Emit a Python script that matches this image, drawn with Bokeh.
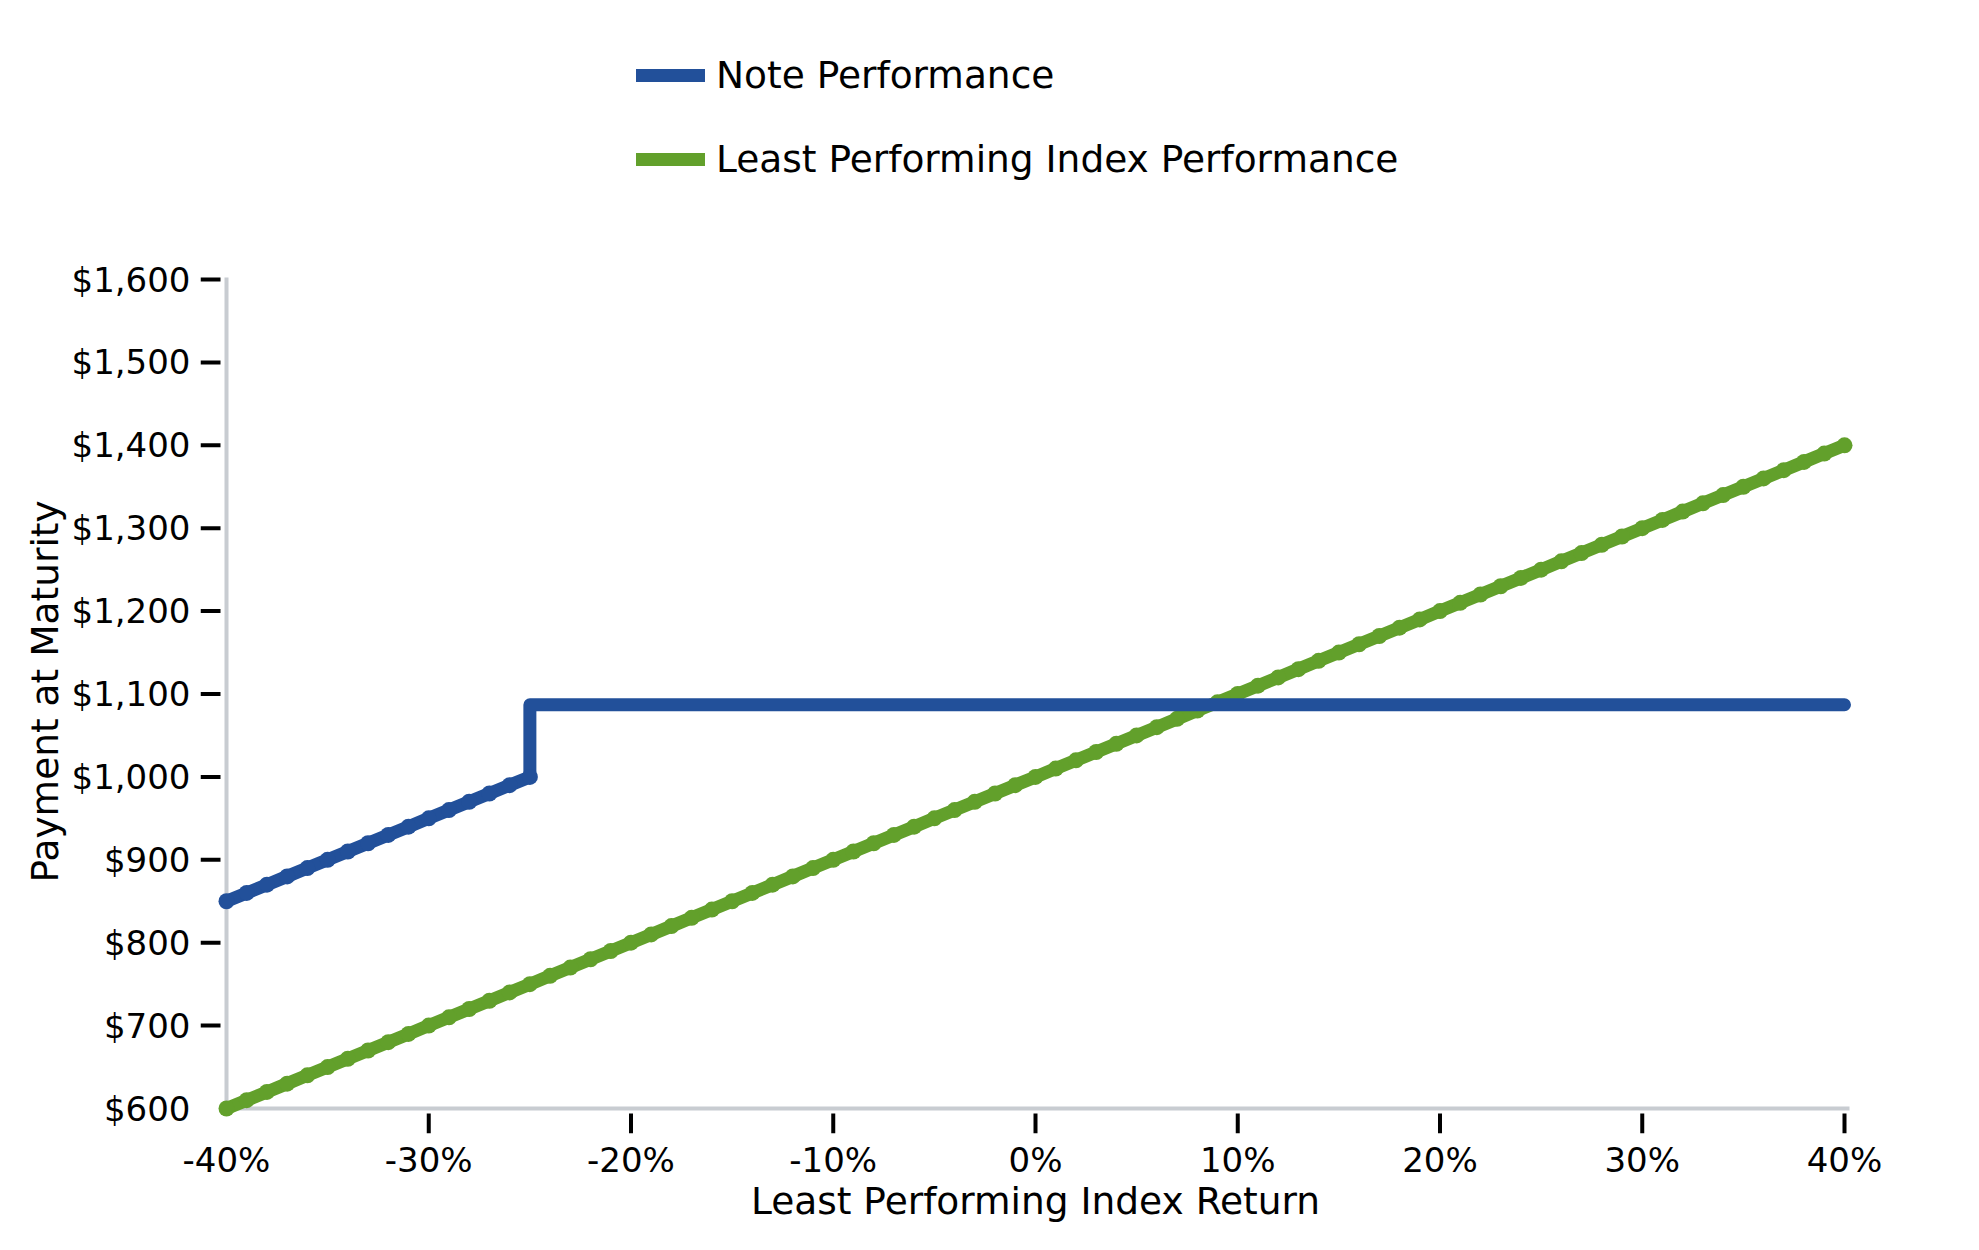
from bokeh.plotting import figure
from bokeh.models import Range1d, FixedTicker, Legend, LegendItem, Title
from bokeh.embed import file_html
from bokeh.resources import INLINE

# ---------------- data ----------------
index_return = [-40, -39, -38, -37, -36, -35, -34, -33, -32, -31,
                -30, -29, -28, -27, -26, -25, -24, -23, -22, -21,
                -20, -19, -18, -17, -16, -15, -14, -13, -12, -11,
                -10, -9, -8, -7, -6, -5, -4, -3, -2, -1,
                0, 1, 2, 3, 4, 5, 6, 7, 8, 9,
                10, 11, 12, 13, 14, 15, 16, 17, 18, 19,
                20, 21, 22, 23, 24, 25, 26, 27, 28, 29,
                30, 31, 32, 33, 34, 35, 36, 37, 38, 39, 40]
index_payment = [600, 610, 620, 630, 640, 650, 660, 670, 680, 690,
                 700, 710, 720, 730, 740, 750, 760, 770, 780, 790,
                 800, 810, 820, 830, 840, 850, 860, 870, 880, 890,
                 900, 910, 920, 930, 940, 950, 960, 970, 980, 990,
                 1000, 1010, 1020, 1030, 1040, 1050, 1060, 1070, 1080, 1090,
                 1100, 1110, 1120, 1130, 1140, 1150, 1160, 1170, 1180, 1190,
                 1200, 1210, 1220, 1230, 1240, 1250, 1260, 1270, 1280, 1290,
                 1300, 1310, 1320, 1330, 1340, 1350, 1360, 1370, 1380, 1390, 1400]

note_return = [-40, -39, -38, -37, -36, -35, -34, -33, -32, -31,
               -30, -29, -28, -27, -26, -25, -25, -24, -23, -22, -21,
               -20, -19, -18, -17, -16, -15, -14, -13, -12, -11,
               -10, -9, -8, -7, -6, -5, -4, -3, -2, -1,
               0, 1, 2, 3, 4, 5, 6, 7, 8, 9,
               10, 11, 12, 13, 14, 15, 16, 17, 18, 19,
               20, 21, 22, 23, 24, 25, 26, 27, 28, 29,
               30, 31, 32, 33, 34, 35, 36, 37, 38, 39, 40]
note_payment = [850, 860, 870, 880, 890, 900, 910, 920, 930, 940,
                950, 960, 970, 980, 990, 1000, 1087, 1087, 1087, 1087, 1087,
                1087, 1087, 1087, 1087, 1087, 1087, 1087, 1087, 1087, 1087,
                1087, 1087, 1087, 1087, 1087, 1087, 1087, 1087, 1087, 1087,
                1087, 1087, 1087, 1087, 1087, 1087, 1087, 1087, 1087, 1087,
                1087, 1087, 1087, 1087, 1087, 1087, 1087, 1087, 1087, 1087,
                1087, 1087, 1087, 1087, 1087, 1087, 1087, 1087, 1087, 1087,
                1087, 1087, 1087, 1087, 1087, 1087, 1087, 1087, 1087, 1087, 1087]

x_ticks = [-40, -30, -20, -10, 0, 10, 20, 30, 40]
x_tick_labels = ["-40%", "-30%", "-20%", "-10%", "0%", "10%", "20%", "30%", "40%"]
y_ticks = [600, 700, 800, 900, 1000, 1100, 1200, 1300, 1400, 1500, 1600]
y_tick_labels = ["$600", "$700", "$800", "$900", "$1,000", "$1,100", "$1,200",
                 "$1,300", "$1,400", "$1,500", "$1,600"]

series_names = ["Note Performance", "Least Performing Index Performance"]
x_title = "Least Performing Index Return"
y_title = "Payment at Maturity"

# ---------------- style / layout ----------------
BLUE = "#22509a"
GREEN = "#62a02b"
AXIS_GRAY = "#c8ccd1"
FONT = "DejaVu Sans"
TICK_FS = "34px"
LABEL_FS = "37.5px"

FRAME_LEFT, FRAME_TOP = 200, 40
FRAME_W, FRAME_H = 1670, 1093
PX_PER_PCT = 20.225      # horizontal pixels per 1 % of return
PX_PER_USD = 0.829       # vertical pixels per $1
PAD_X = 26               # px between frame left and first x tick
PAD_Y = 25               # px between frame bottom and first y tick
TICK_LEN = 20            # tick length (px), drawn inside the frame strip
AXIS_OVERHANG = 5        # px the x axis line passes the last tick

X_START = x_ticks[0] - PAD_X / PX_PER_PCT
X_END = X_START + FRAME_W / PX_PER_PCT
Y_START = y_ticks[0] - PAD_Y / PX_PER_USD
Y_END = Y_START + FRAME_H / PX_PER_USD

p = figure(width=FRAME_LEFT + FRAME_W + 30, height=FRAME_TOP + FRAME_H + 100,
           x_range=Range1d(X_START, X_END), y_range=Range1d(Y_START, Y_END),
           min_border_left=FRAME_LEFT, min_border_right=30,
           min_border_top=FRAME_TOP, min_border_bottom=100,
           toolbar_location=None, output_backend="svg",
           outline_line_color=None)
p.grid.visible = False
p.background_fill_color = "white"
p.border_fill_color = "white"

# light gray axis lines
p.segment(x0=[x_ticks[0]], y0=[y_ticks[0]], x1=[x_ticks[0]], y1=[y_ticks[-1]],
          line_color=AXIS_GRAY, line_width=4, line_cap="square")
p.segment(x0=[x_ticks[0]], y0=[y_ticks[0]],
          x1=[x_ticks[-1] + AXIS_OVERHANG / PX_PER_PCT], y1=[y_ticks[0]],
          line_color=AXIS_GRAY, line_width=4)

# detached tick marks (none at the corner)
yt = y_ticks[1:]
p.segment(x0=[X_START] * len(yt), y0=yt,
          x1=[X_START + TICK_LEN / PX_PER_PCT] * len(yt), y1=yt,
          line_color="black", line_width=4)
xt = x_ticks[1:]
p.segment(x0=xt, y0=[Y_START] * len(xt),
          x1=xt, y1=[Y_START + TICK_LEN / PX_PER_USD] * len(xt),
          line_color="black", line_width=4)

# series
green_line = p.line(index_return, index_payment, line_width=13, line_color=GREEN,
                    line_cap="round", line_join="round")
p.scatter(index_return, index_payment, size=16, fill_color=GREEN,
          line_color=GREEN, line_width=0)
blue_line = p.line(note_return, note_payment, line_width=13, line_color=BLUE,
                   line_cap="round", line_join="round")
p.scatter(note_return[:16], note_payment[:16], size=16, fill_color=BLUE,
          line_color=BLUE, line_width=0)

# axes: labels only, ticks drawn above
for ax in (p.xaxis[0], p.yaxis[0]):
    ax.axis_line_color = None
    ax.major_tick_out = 0
    ax.major_tick_in = 0
    ax.major_tick_line_color = None
    ax.minor_tick_line_color = None
    ax.major_label_text_font = FONT
    ax.major_label_text_font_size = TICK_FS
    ax.major_label_text_color = "black"
    ax.axis_label_text_font = FONT
    ax.axis_label_text_font_size = LABEL_FS
    ax.axis_label_text_font_style = "normal"
    ax.axis_label_text_color = "black"

p.xaxis.ticker = FixedTicker(ticks=x_ticks)
p.xaxis.major_label_overrides = {t: l for t, l in zip(x_ticks, x_tick_labels)}
p.xaxis.major_label_standoff = 6
p.xaxis.axis_label = x_title
p.xaxis.axis_label_standoff = -4

p.yaxis.ticker = FixedTicker(ticks=y_ticks)
p.yaxis.major_label_overrides = {t: l for t, l in zip(y_ticks, y_tick_labels)}
p.yaxis.major_label_standoff = 10

# y axis title, placed along the $600-$1,600 span rather than the whole frame
p.add_layout(Title(text=y_title, align="left", offset=251,
                   standoff=3, text_font=FONT, text_font_size=LABEL_FS,
                   text_font_style="normal", text_color="black"), "left")

legend = Legend(items=[LegendItem(label=series_names[0], renderers=[blue_line]),
                       LegendItem(label=series_names[1], renderers=[green_line])],
                location=(436, 952), orientation="vertical",
                glyph_width=69, glyph_height=34, label_height=34, spacing=40,
                padding=0, margin=0, label_standoff=11,
                border_line_color=None, background_fill_alpha=0,
                label_text_font=FONT, label_text_font_size=LABEL_FS,
                label_text_color="black")
p.add_layout(legend)

open("out.html", "w").write(file_html(p, INLINE))
